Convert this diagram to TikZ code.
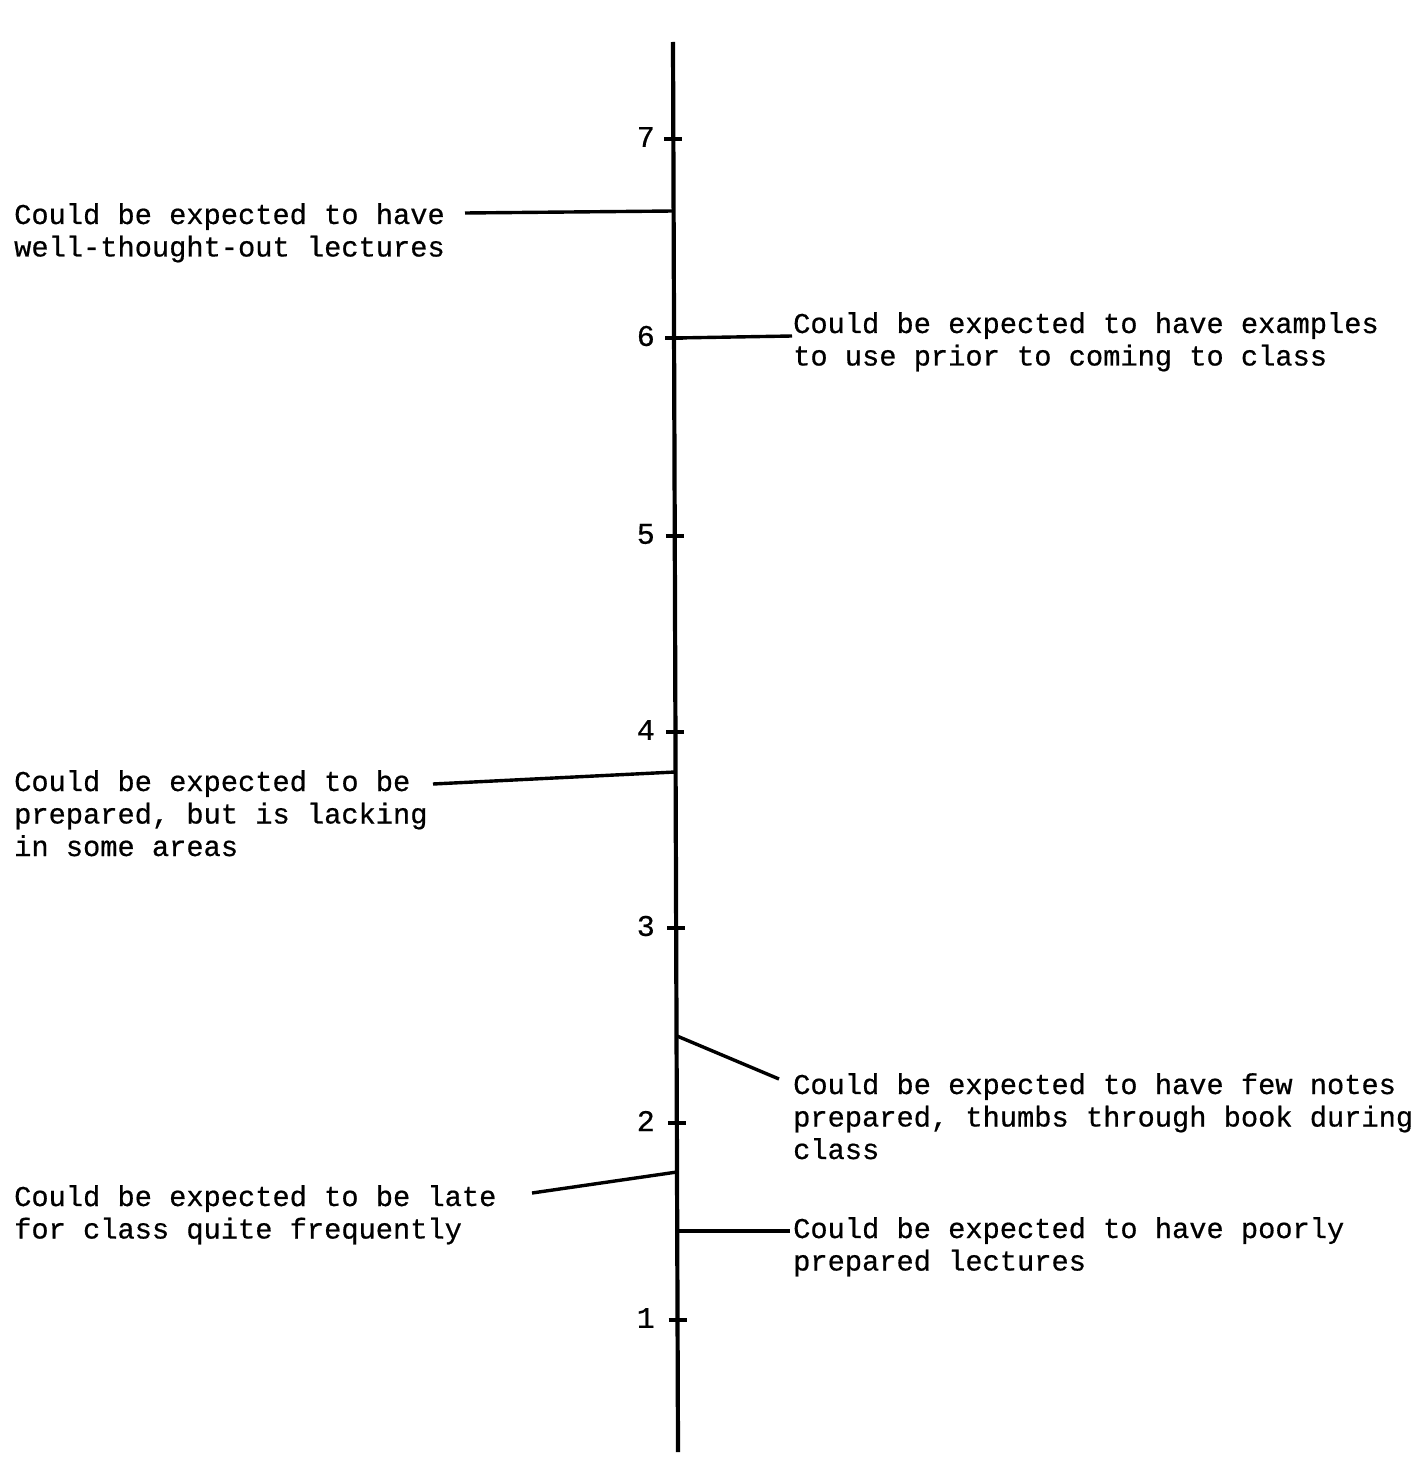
\documentclass[tikz,border=0pt]{standalone}
\usepackage{fontspec}
\setmonofont[FakeBold=0.6]{Liberation Mono}
\begin{document}
\begin{tikzpicture}[x=1pt,y=-1pt,
  lbl/.style={font=\ttfamily\fontsize{28.7}{32.5}\selectfont, align=left, anchor=north west, inner sep=0pt},
  num/.style={font=\ttfamily\fontsize{30}{32.5}\selectfont, anchor=east, inner sep=0pt},
  axisline/.style={line width=4.2pt},
  conn/.style={line width=3.4pt},
  tickmark/.style={line width=4pt}]
\useasboundingbox (0,0) rectangle (1421,1458);
% axis
\coordinate (top) at (673,42);
\coordinate (bot) at (678,1452);
\draw[axisline] (top) -- (bot);
% ticks and numbers
\foreach \n/\y in {7/139,6/338,5/536,4/732,3/928,2/1123,1/1320}{
  \coordinate (t\n) at ({673+5*(\y-42)/1410},\y);
  \draw[tickmark] ([xshift=-9pt]t\n) -- ([xshift=9pt]t\n);
  \node[num] (n\n) at (655,\y-2) {\n};
}
% labels
\node[lbl] (lA) at (14,203) {Could be expected to have\\well-thought-out lectures};
\node[lbl] (lB) at (793,312) {Could be expected to have examples\\to use prior to coming to class};
\node[lbl] (lC) at (14,770) {Could be expected to be\\prepared, but is lacking\\in some areas};
\node[lbl] (lD) at (793,1073) {Could be expected to have few notes\\prepared, thumbs through book during\\class};
\node[lbl] (lE) at (14,1185) {Could be expected to be late\\for class quite frequently};
\node[lbl] (lF) at (793,1217) {Could be expected to have poorly\\prepared lectures};
% connectors
\coordinate (aA) at (673,211); \coordinate (eA) at (465,213);
\coordinate (aB) at (675,338); \coordinate (eB) at (792,336);
\coordinate (aC) at (675,772); \coordinate (eC) at (433,784);
\coordinate (aD) at (677,1036); \coordinate (eD) at (779,1079);
\coordinate (aE) at (677,1172); \coordinate (eE) at (532,1193);
\coordinate (aF) at (678,1231); \coordinate (eF) at (790,1231);
\draw[conn] (aA) -- (eA);
\draw[conn] (aB) -- (eB);
\draw[conn] (aC) -- (eC);
\draw[conn] (aD) -- (eD);
\draw[conn] (aE) -- (eE);
\draw[conn] (aF) -- (eF);
\end{tikzpicture}
\end{document}
